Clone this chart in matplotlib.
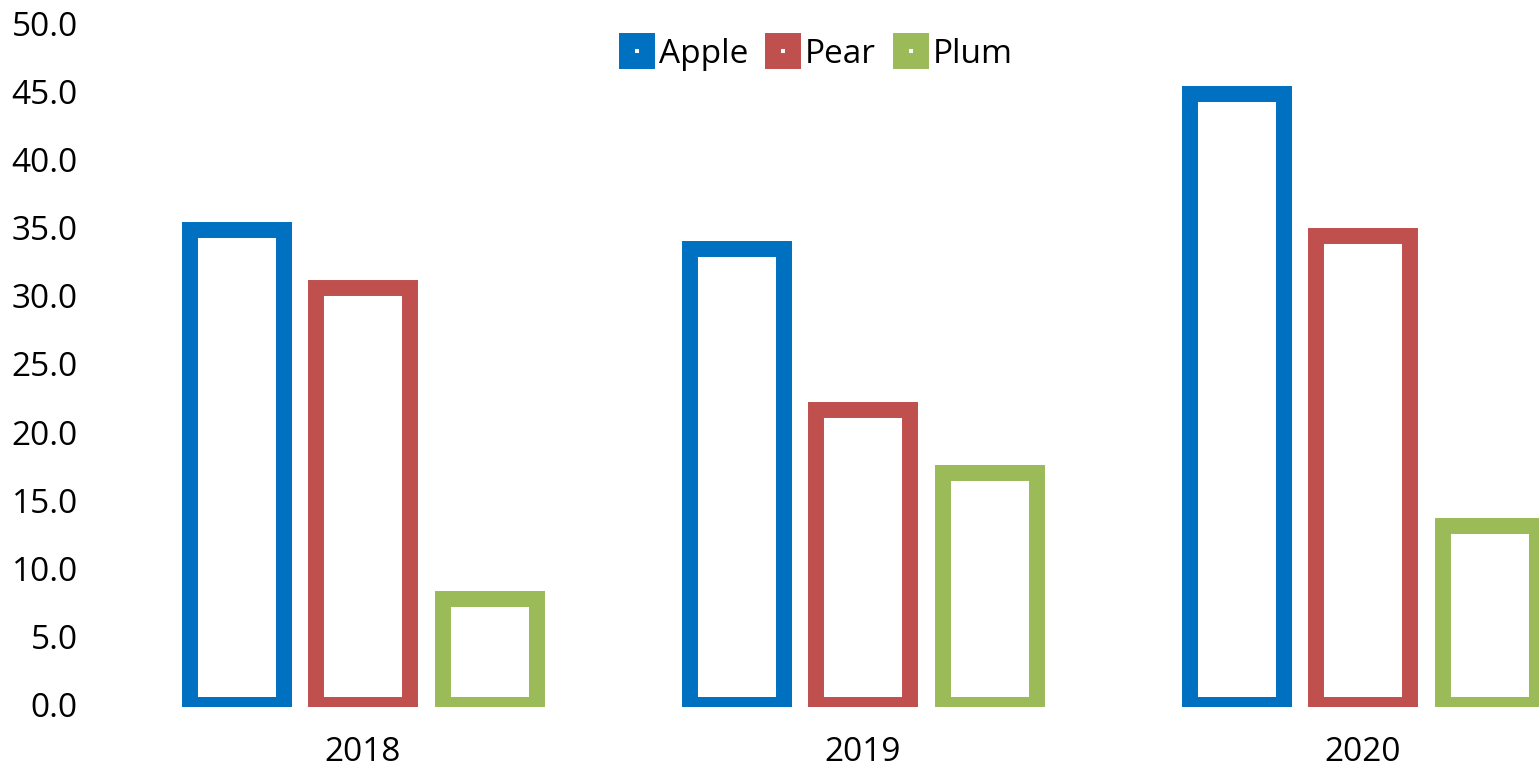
import numpy as np
import matplotlib
matplotlib.use('Agg')
import matplotlib.pyplot as plt
from matplotlib.lines import Line2D

# data
years = ['2018', '2019', '2020']
apple = [34.8, 33.4, 44.8]
pear = [30.6, 21.6, 34.4]
plum = [7.8, 17.0, 13.1]
series_names = ['Apple', 'Pear', 'Plum']
colors = ['#0070C0', '#C0504D', '#9BBB59']
yticks = [0, 5, 10, 15, 20, 25, 30, 35, 40, 45, 50]

plt.rcParams['font.family'] = ['Open Sans', 'DejaVu Sans']

W, H = 1539, 769
fig = plt.figure(figsize=(W / 100, H / 100), dpi=100)
# axes placed in pixels: left 100, bottom at 707, top at y=50 (~23 px)
ax = fig.add_axes([100 / W, (H - 707) / H, (W - 100) / W, (707 - 23) / H])

x = np.arange(len(years))
width = 0.188
offset = 0.253
lw = 11.5

for i, (vals, c) in enumerate(zip([apple, pear, plum], colors)):
    ax.bar(x + (i - 1) * offset, vals, width=width, facecolor='white',
           edgecolor=c, linewidth=lw)

ax.set_xlim(-0.526, 2.352)
ax.set_ylim(-0.15, 50)
ax.set_yticks(yticks)
ax.set_yticklabels(['%.1f' % v for v in yticks])
ax.set_xticks(x)
ax.set_xticklabels(years)
ax.tick_params(axis='both', length=0, labelsize=24)
ax.tick_params(axis='y', pad=16)
ax.tick_params(axis='x', pad=21)
for s in ax.spines.values():
    s.set_visible(False)

handles = [Line2D([], [], marker='s', markersize=14.4, markeredgewidth=lw,
                  markerfacecolor='white', markeredgecolor=c, linestyle='none')
           for c in colors]
fig.legend(handles, series_names, loc='center', bbox_to_anchor=(0.53, 0.929),
           ncol=3, frameon=False, fontsize=24, handlelength=1.1,
           handletextpad=0.1, columnspacing=0.5, borderpad=0)

fig.savefig('out.png', dpi=100)
